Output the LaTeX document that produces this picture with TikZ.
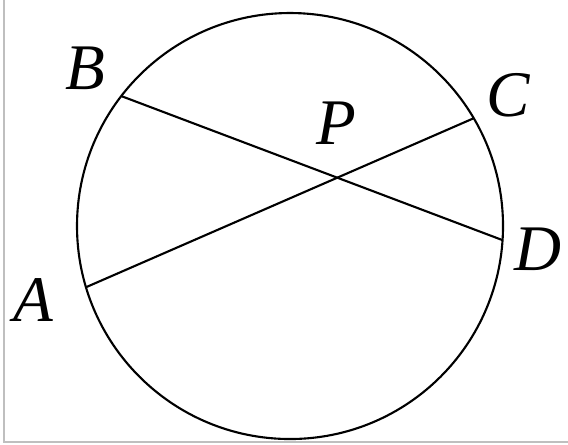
\documentclass[tikz,border=0pt]{standalone}
\usepackage{fontspec}
\setmainfont{Liberation Serif}
\usetikzlibrary{calc}
\begin{document}
\begin{tikzpicture}[x=0.01cm, y=0.01cm, line width=0.6pt]
  \useasboundingbox (0,0) rectangle (568,444);
  \draw[gray!50, line width=0.8pt] (4,444) -- (4,2) -- (568,2);

  \coordinate (O) at (290,218);
  \draw (O) circle (213);

  \coordinate (B) at ($(O)+(142.4:213)$);
  \coordinate (A) at ($(O)+(196.7:213)$);
  \coordinate (C) at ($(O)+(30.4:213)$);
  \coordinate (D) at ($(O)+(-3.8:213)$);
  \coordinate (P) at (intersection of A--C and B--D);

  \draw (B) -- (D);
  \draw (A) -- (C);

  \tikzset{lbl/.style={font=\fontsize{18.5}{20}\selectfont\itshape, inner sep=0pt}}
  \node[lbl] (labB) at (85,376) {B};
  \node[lbl] (labA) at (33,144) {A};
  \node[lbl] (labC) at (508,349) {C};
  \node[lbl] (labD) at (538,195) {D};
  \node[lbl] (labP) at (336,321) {P};
\end{tikzpicture}
\end{document}
